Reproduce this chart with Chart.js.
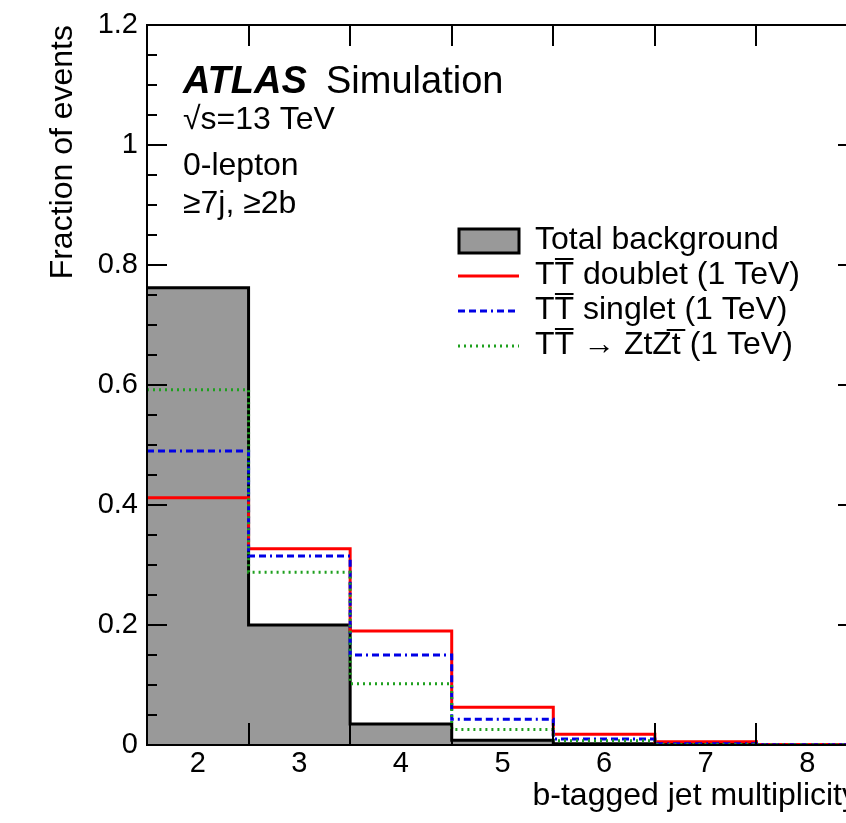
<!DOCTYPE html>
<html>
<head>
<meta charset="utf-8">
<script src="https://cdn.jsdelivr.net/npm/chart.js@4.4.1/dist/chart.umd.min.js"></script>
<style>
  html, body { margin:0; padding:0; background:#fff; overflow:hidden; }
  #wrap { width:846px; height:823px; overflow:hidden; }
</style>
</head>
<body>
<div id="wrap"><canvas id="c" width="880" height="823"></canvas></div>
<script>
// b-tagged jet multiplicity bins (centres) and fractions per bin
const binCenters = [2, 3, 4, 5, 6, 7, 8];
const totalBkg   = [0.762, 0.200, 0.035, 0.008, 0.002, 0.001, 0.0005];
const doublet    = [0.412, 0.327, 0.190, 0.063, 0.018, 0.0055, 0.001];
const singlet    = [0.490, 0.315, 0.150, 0.043, 0.010, 0.002, 0.0005];
const ztzt       = [0.592, 0.288, 0.102, 0.026, 0.007, 0.001, 0.0003];
const seriesNames = ['Total background', 'TT\u0305 doublet (1 TeV)', 'TT\u0305 singlet (1 TeV)', 'TT\u0305 \u2192 ZtZt\u0305 (1 TeV)'];
const yMajor = [0, 0.2, 0.4, 0.6, 0.8, 1.0, 1.2];
const infoLines = ['\u221As=13 TeV', '0-lepton', '\u22657j, \u22652b'];

const W = 880, FR = 858;
const FONT = "'Liberation Sans', Arial, sans-serif";

// histogram -> stepped points at bin edges
function steps(vals) {
  const pts = binCenters.map((c, i) => ({ x: c - 0.5, y: vals[i] }));
  pts.push({ x: binCenters[binCenters.length - 1] + 0.5, y: vals[vals.length - 1] });
  return pts;
}

const lineBase = { stepped: 'before', pointRadius: 0, borderWidth: 3, fill: false };

const frame = {
  id: 'frame',
  afterDatasetsDraw(chart) {
    const { ctx, chartArea: a, scales: { x, y } } = chart;
    ctx.save();
    ctx.strokeStyle = '#000';
    ctx.lineWidth = 2;
    ctx.strokeRect(a.left, a.top, a.right - a.left, a.bottom - a.top);
    ctx.beginPath();
    // x ticks at bin edges
    binCenters.slice(1).forEach(c => {
      const px = Math.round(x.getPixelForValue(c - 0.5));
      ctx.moveTo(px, a.bottom); ctx.lineTo(px, a.bottom - 22);
      ctx.moveTo(px, a.top);    ctx.lineTo(px, a.top + 21);
    });
    // y ticks, major + 3 minor
    for (let i = 0; i < yMajor.length; i++) {
      const v = yMajor[i];
      const py = Math.round(y.getPixelForValue(v));
      ctx.moveTo(a.left, py);  ctx.lineTo(a.left + 20, py);
      ctx.moveTo(a.right, py); ctx.lineTo(a.right - 20, py);
      if (i < yMajor.length - 1) {
        const step = (yMajor[i + 1] - v) / 4;
        for (let k = 1; k < 4; k++) {
          const pm = Math.round(y.getPixelForValue(v + k * step));
          ctx.moveTo(a.left, pm);  ctx.lineTo(a.left + 10, pm);
          ctx.moveTo(a.right, pm); ctx.lineTo(a.right - 10, pm);
        }
      }
    }
    ctx.stroke();
    ctx.restore();
  },
  afterDraw(chart) {
    const { ctx, chartArea: a } = chart;
    ctx.save();
    ctx.fillStyle = '#000';
    // axis titles
    ctx.font = '32px ' + FONT;
    ctx.textAlign = 'right';
    ctx.textBaseline = 'alphabetic';
    ctx.fillText('b-tagged jet multiplicity', a.right, 805);
    ctx.save();
    ctx.translate(72, a.top);
    ctx.rotate(-Math.PI / 2);
    ctx.textAlign = 'right';
    ctx.fillText('Fraction of events', 0, 0);
    ctx.restore();

    // ATLAS label
    ctx.textAlign = 'left';
    ctx.font = 'italic bold 38px ' + FONT;
    ctx.fillText('ATLAS', 183, 93);
    ctx.font = '38px ' + FONT;
    ctx.fillText('Simulation', 326, 93);
    ctx.font = '32px ' + FONT;
    const ys = [129, 175, 213];
    infoLines.forEach((t, i) => ctx.fillText(t, 183, ys[i]));

    // legend
    const ds = chart.data.datasets;
    const rows = [240, 275, 310, 345];
    ctx.font = '32px ' + FONT;
    ctx.textBaseline = 'middle';
    ds.forEach((d, i) => {
      const cy = rows[i];
      if (i === 0) {
        ctx.fillStyle = d.backgroundColor;
        ctx.fillRect(459, 229, 60, 24);
        ctx.strokeStyle = '#000';
        ctx.lineWidth = 3;
        ctx.strokeRect(459, 229, 60, 24);
      } else {
        ctx.strokeStyle = d.borderColor;
        ctx.lineWidth = d.borderWidth;
        ctx.setLineDash(d.borderDash || []);
        ctx.beginPath();
        ctx.moveTo(458, cy + 1); ctx.lineTo(519, cy + 1);
        ctx.stroke();
        ctx.setLineDash([]);
      }
      ctx.fillStyle = '#000';
      ctx.fillText(d.label, 535, cy);
    });
    ctx.restore();
  }
};

new Chart(document.getElementById('c'), {
  type: 'line',
  data: {
    datasets: [
      { ...lineBase, label: seriesNames[0], data: steps(totalBkg), borderColor: '#000', backgroundColor: '#999999', fill: 'origin', order: 4 },
      { ...lineBase, label: seriesNames[1], data: steps(doublet), borderColor: '#ff0000', order: 3 },
      { ...lineBase, label: seriesNames[2], data: steps(singlet), borderColor: '#0000e6', borderDash: [7, 4, 7, 4, 7, 4, 2, 4], order: 2 },
      { ...lineBase, label: seriesNames[3], data: steps(ztzt), borderColor: '#1ea01e', borderDash: [2, 4], order: 1 }
    ]
  },
  options: {
    responsive: false,
    animation: false,
    events: [],
    layout: { padding: { left: 0, top: 25, right: W - FR, bottom: 0 } },
    plugins: { legend: { display: false }, tooltip: { enabled: false } },
    scales: {
      x: {
        type: 'linear', min: 1.5, max: 8.5,
        afterBuildTicks: s => { s.ticks = binCenters.map(v => ({ value: v })); },
        afterFit: s => { s.height = 78; s.paddingLeft = 0; s.paddingRight = 0; },
        grid: { display: false, drawTicks: false },
        border: { display: false },
        ticks: { color: '#000', padding: 2, font: { family: FONT, size: 29 }, callback: v => String(v) }
      },
      y: {
        min: 0, max: 1.2,
        afterBuildTicks: s => { s.ticks = yMajor.map(v => ({ value: v })); },
        afterFit: s => { s.width = 147; s.paddingTop = 0; s.paddingBottom = 0; },
        grid: { display: false, drawTicks: false },
        border: { display: false },
        ticks: { color: '#000', padding: 9, font: { family: FONT, size: 29 }, callback: v => String(Number(v.toFixed(1))) }
      }
    }
  },
  plugins: [frame]
});
</script>
</body>
</html>
